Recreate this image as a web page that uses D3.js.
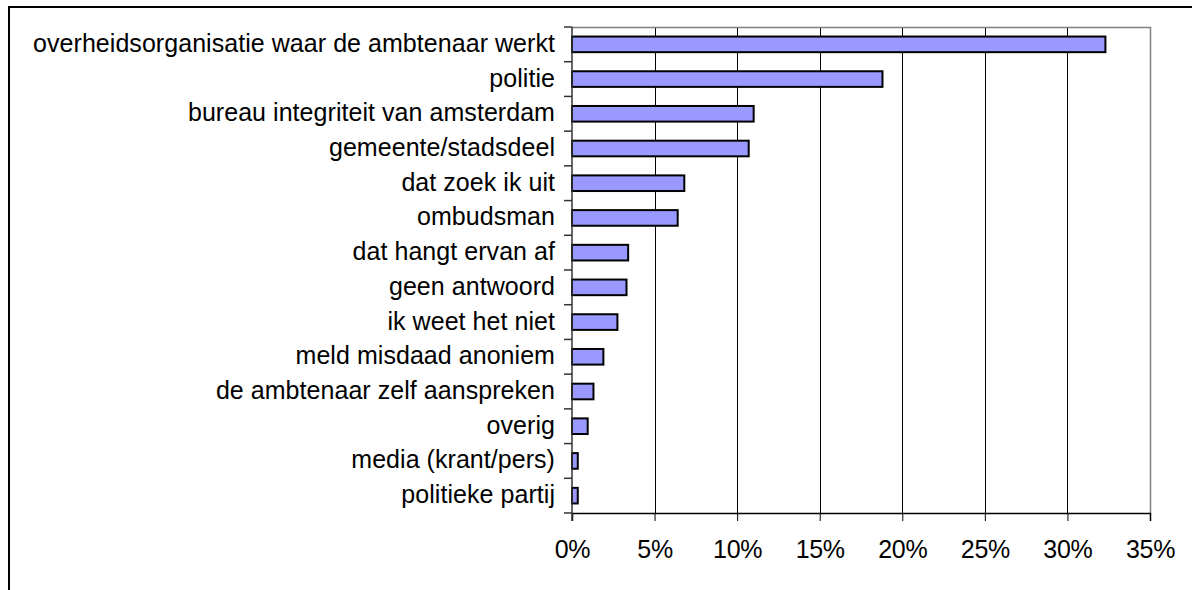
<!DOCTYPE html>
<html>
<head>
<meta charset="utf-8">
<script src="https://cdn.jsdelivr.net/npm/d3@7"></script>
<style>
    html, body { margin: 0; padding: 0; background: #fff; }
    svg { display: block; }
    text { font-family: "Liberation Sans", Arial, sans-serif; fill: #000; }
</style>
</head>
<body>
<script>

    // categories, top to bottom
    var categories = [
          "overheidsorganisatie waar de ambtenaar werkt"
        , "politie"
        , "bureau integriteit van amsterdam"
        , "gemeente/stadsdeel"
        , "dat zoek ik uit"
        , "ombudsman"
        , "dat hangt ervan af"
        , "geen antwoord"
        , "ik weet het niet"
        , "meld misdaad anoniem"
        , "de ambtenaar zelf aanspreken"
        , "overig"
        , "media (krant/pers)"
        , "politieke partij"
    ];

    // share of respondents, percent
    var values = [32.3, 18.8, 11.0, 10.7, 6.8, 6.4, 3.4, 3.3, 2.75, 1.9, 1.3, 0.95, 0.35, 0.35];

    var ticks = [0, 5, 10, 15, 20, 25, 30, 35];

    var W = 1192, H = 590,
        plot = { left: 572, right: 1150, top: 27, bottom: 513 };

    var svg = d3.select("body")
        .append("svg")
        .attr("width", W)
        .attr("height", H);

    // chart frame (cut off at right and bottom)
    svg.append("rect")
        .attr("x", 9)
        .attr("y", 7)
        .attr("width", W + 20)
        .attr("height", H + 20)
        .attr("fill", "none")
        .attr("stroke", "#000")
        .attr("stroke-width", 2);

    var x = d3.scaleLinear()
        .domain([0, 35])
        .range([plot.left, plot.right]);

    var y = d3.scaleBand()
        .domain(categories)
        .range([plot.top, plot.bottom])
        .paddingInner(0.55)
        .paddingOuter(0.275);

    var bandStep = (plot.bottom - plot.top) / categories.length;

    // vertical gridlines
    svg.append("g")
        .selectAll("line")
        .data(ticks.slice(1, -1))
        .enter()
        .append("line")
        .attr("x1", function (d) { return Math.round(x(d)) + 0.5; })
        .attr("x2", function (d) { return Math.round(x(d)) + 0.5; })
        .attr("y1", plot.top)
        .attr("y2", plot.bottom)
        .attr("stroke", "#000")
        .attr("stroke-width", 1);

    // plot border top + right (grey)
    svg.append("path")
        .attr("d", "M" + plot.left + "," + (plot.top + 0.5) +
                   "H" + (plot.right + 0.5) + "V" + plot.bottom)
        .attr("fill", "none")
        .attr("stroke", "#808080")
        .attr("stroke-width", 1.5);

    // bars
    svg.append("g")
        .selectAll("rect")
        .data(values)
        .enter()
        .append("rect")
        .attr("x", x(0))
        .attr("y", function (d, i) { return y(categories[i]); })
        .attr("width", function (d) { return x(d) - x(0); })
        .attr("height", y.bandwidth())
        .attr("fill", "#9999ff")
        .attr("stroke", "#000")
        .attr("stroke-width", 2);

    // x axis
    var xAxis = svg.append("g")
        .attr("transform", "translate(0," + plot.bottom + ")")
        .call(d3.axisBottom(x)
            .tickValues(ticks)
            .tickSize(8)
            .tickPadding(19)
            .tickFormat(function (d) { return d + "%"; }));

    xAxis.select(".domain").attr("stroke", "#000").attr("stroke-width", 1.5);
    xAxis.selectAll(".tick line").attr("stroke", "#000");
    xAxis.selectAll("text")
        .attr("font-size", 25)
        .attr("letter-spacing", -0.3)
        .attr("fill", "#000");

    // y axis: line + ticks at band boundaries
    svg.append("line")
        .attr("x1", plot.left)
        .attr("x2", plot.left)
        .attr("y1", plot.top)
        .attr("y2", plot.bottom + 8)
        .attr("stroke", "#333")
        .attr("stroke-width", 1.5);

    svg.append("g")
        .selectAll("line")
        .data(d3.range(categories.length + 1))
        .enter()
        .append("line")
        .attr("x1", plot.left - 8)
        .attr("x2", plot.left)
        .attr("y1", function (i) { return plot.top + i * bandStep; })
        .attr("y2", function (i) { return plot.top + i * bandStep; })
        .attr("stroke", "#333")
        .attr("stroke-width", 1.5);

    // category labels
    svg.append("g")
        .selectAll("text")
        .data(categories)
        .enter()
        .append("text")
        .attr("x", 555)
        .attr("y", function (d) { return y(d) + y.bandwidth() / 2; })
        .attr("dy", "0.3em")
        .attr("text-anchor", "end")
        .attr("font-size", 25)
        .attr("letter-spacing", 0.05)
        .text(function (d) { return d; });

</script>
</body>
</html>
